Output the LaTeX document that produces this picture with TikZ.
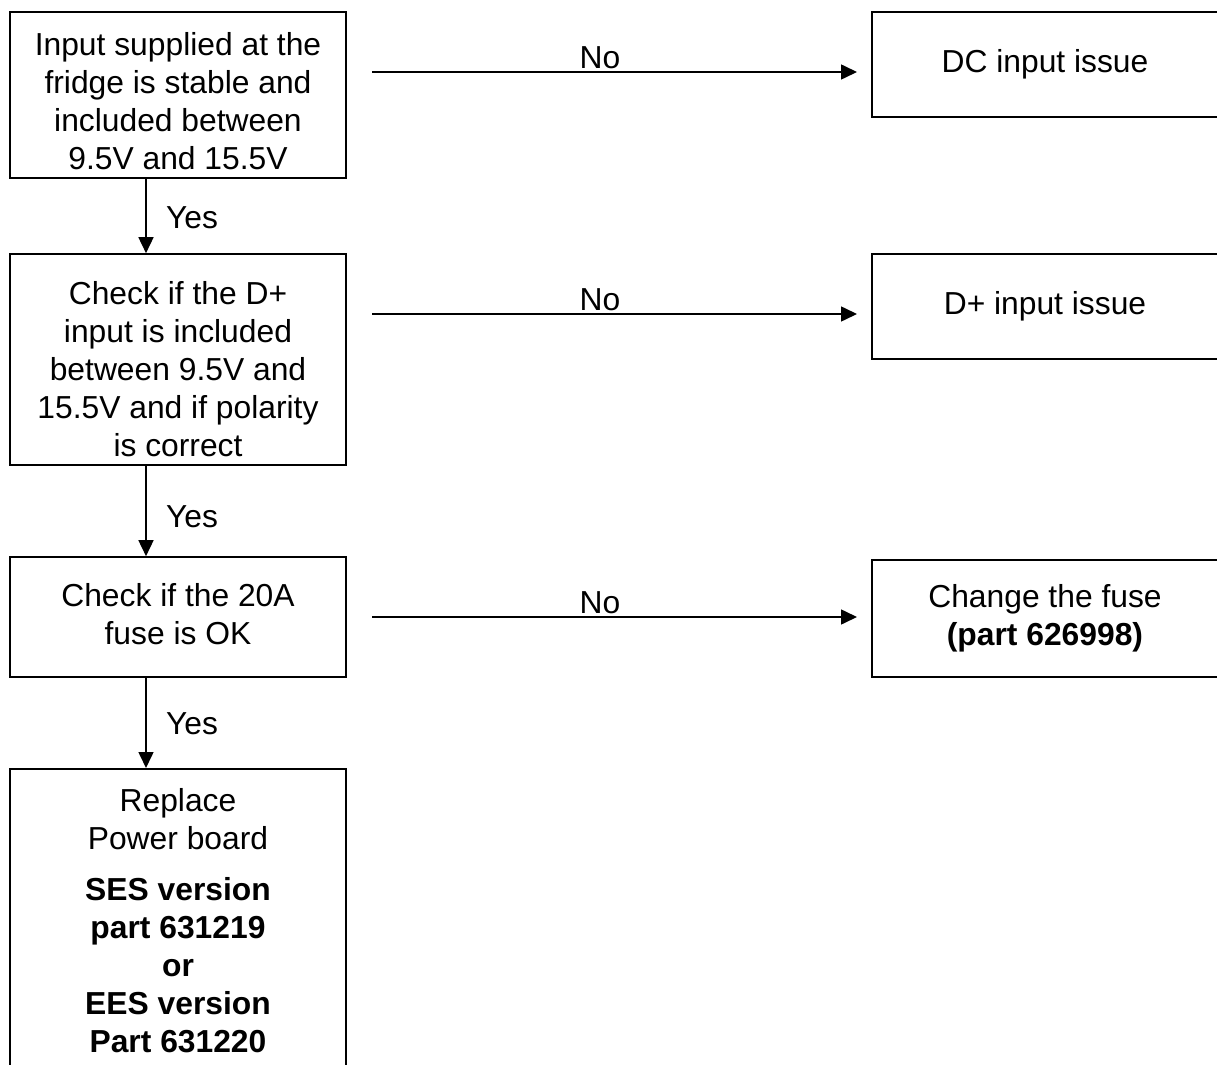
\documentclass[tikz,border=0pt]{standalone}
\usepackage{fontspec}
\setmainfont{Liberation Sans}
\usetikzlibrary{arrows.meta}
\newcommand{\topgap}[1]{\rule{0pt}{#1}}

\begin{document}
\begin{tikzpicture}[x=0.5pt,y=-0.5pt,
		every node/.style={font=\fontsize{15.9pt}{19pt}\selectfont, align=center},
		box/.style={draw, line width=0.8pt, minimum width=168pt, inner sep=0pt},
		endbox/.style={draw, line width=0.8pt, minimum width=173pt, inner sep=0pt},
		arr/.style={line width=0.8pt, -{Triangle[length=8pt,width=7.5pt]}}]
		\useasboundingbox (0,0) rectangle (1217,1065);
		\clip (0,0) rectangle (1217,1065);
		% left column
		\node [box, minimum height=83pt] (b1) at (178,95) {\topgap{17.5pt}Input supplied at the\\fridge is stable and\\included between\\9.5V and 15.5V};
		\node [box, minimum height=105.5pt] (b2) at (178,359.5) {\topgap{21.5pt}Check if the D+\\input is included\\between 9.5V and\\15.5V and if polarity\\is correct};
		\node [box, minimum height=60pt] (b3) at (178,617) {Check if the 20A\\fuse is OK\rule[-3pt]{0pt}{3pt}};
		\node [box, anchor=north, inner ysep=7pt] (b4) at (178,768) {\topgap{14.5pt}Replace\\Power board\\[6.5pt]\textbf{SES version}\\\textbf{part 631219}\\\textbf{or}\\\textbf{EES version}\\\textbf{Part 631220}\rule[-20pt]{0pt}{20pt}};
		% right column
		\node [endbox, minimum height=52.5pt] (r1) at (1045,64.5) {DC input issue};
		\node [endbox, minimum height=52.5pt] (r2) at (1045,306.5) {D+ input issue};
		\node [endbox, minimum height=58.5pt] (r3) at (1045,618.5) {Change the fuse\\\textbf{(part 626998)}};
		% yes arrows
		\draw [arr] ([xshift=-16pt]b1.south) -- ([xshift=-16pt]b2.north);
		\draw [arr] ([xshift=-16pt]b2.south) -- ([xshift=-16pt]b3.north);
		\draw [arr] ([xshift=-16pt]b3.south) -- ([xshift=-16pt]b4.north);
		\node (y1) at (192,218) {Yes};
		\node (y2) at (192,517) {Yes};
		\node (y3) at (192,724) {Yes};
		% no arrows
		\coordinate (n1s) at (372,72);
		\coordinate (n1e) at (857,72);
		\coordinate (n2s) at (372,314);
		\coordinate (n2e) at (857,314);
		\coordinate (n3s) at (372,617);
		\coordinate (n3e) at (857,617);
		\draw [arr] (n1s) -- (n1e);
		\draw [arr] (n2s) -- (n2e);
		\draw [arr] (n3s) -- (n3e);
		\node (no1) at (600,58) {No};
		\node (no2) at (600,300) {No};
		\node (no3) at (600,603) {No};
\end{tikzpicture}
\end{document}
